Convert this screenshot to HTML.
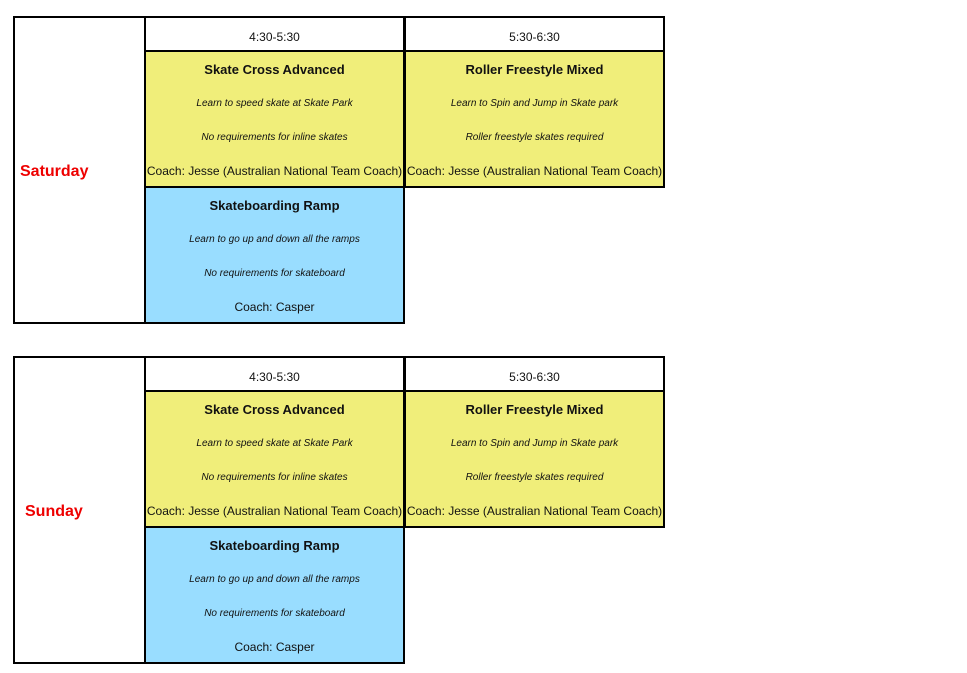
<!DOCTYPE html><html><head><style>
body{margin:0;width:967px;height:673px;background:#fff;font-family:"Liberation Sans",Arial,sans-serif;position:relative;overflow:hidden}
.b{position:absolute;border:2px solid #000;box-sizing:border-box}
.t{position:absolute;left:0;right:0;text-align:center;white-space:nowrap;color:#111}
.h{font-size:12px}
.ti{font-size:13px;font-weight:bold}
.it{font-size:10px;font-style:italic}
.co{font-size:12px}
.day{position:absolute;color:#e00;font-weight:bold;font-size:16px}
.y{background:#f0ee7a}.bl{background:#99ddff}
</style></head><body>
<div id="blocks"></div>
<script>
function cell(x,y,w,h,cls,title,l1,l2,coach){
 return `<div class="b ${cls}" style="left:${x}px;top:${y}px;width:${w}px;height:${h}px">
 <div class="t ti" style="top:10px">${title}</div>
 <div class="t it" style="top:46px">${l1}</div>
 <div class="t it" style="top:80px">${l2}</div>
 <div class="t co" style="top:112px;${coach.length>20?'left:-3px;right:-3px':''}">${coach}</div></div>`;}
let html='';
[[0,'Saturday',20],[340,'Sunday',25]].forEach(([o,d,dx])=>{
 html+=`<div class="b" style="left:13px;top:${16+o}px;width:133px;height:308px"></div>`;
 html+=`<div class="day" style="left:${dx}px;top:${163+o}px">${d}</div>`;
 html+=`<div class="b" style="left:144px;top:${16+o}px;width:261px;height:37px"><div class="t h" style="top:12px">4:30-5:30</div></div>`;
 html+=`<div class="b" style="left:404px;top:${16+o}px;width:261px;height:37px"><div class="t h" style="top:12px">5:30-6:30</div></div>`;
 html+=cell(144,50+o,261,138,'y','Skate Cross Advanced','Learn to speed skate at Skate Park','No requirements for inline skates','Coach: Jesse (Australian National Team Coach)');
 html+=cell(404,50+o,261,138,'y','Roller Freestyle Mixed','Learn to Spin and Jump in Skate park','Roller freestyle skates required','Coach: Jesse (Australian National Team Coach)');
 html+=cell(144,186+o,261,138,'bl','Skateboarding Ramp','Learn to go up and down all the ramps','No requirements for skateboard','Coach: Casper');
});
document.getElementById('blocks').innerHTML=html;
</script>
</body></html>
